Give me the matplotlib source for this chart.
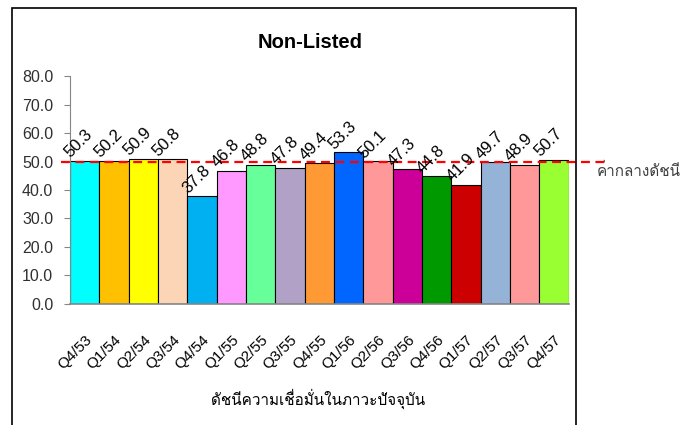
import matplotlib
matplotlib.use('Agg')
import matplotlib.pyplot as plt
from matplotlib import font_manager
from matplotlib.ft2font import FT2Font
from matplotlib.patches import Rectangle

# data
quarters = ['Q4/53', 'Q1/54', 'Q2/54', 'Q3/54', 'Q4/54', 'Q1/55', 'Q2/55', 'Q3/55',
            'Q4/55', 'Q1/56', 'Q2/56', 'Q3/56', 'Q4/56', 'Q1/57', 'Q2/57', 'Q3/57', 'Q4/57']
values = [50.3, 50.2, 50.9, 50.8, 37.8, 46.8, 48.8, 47.8, 49.4,
          53.3, 50.1, 47.3, 44.8, 41.9, 49.7, 48.9, 50.7]
bar_colors = ['#00FFFF', '#FFC000', '#FFFF00', '#FBD5B5', '#00B0F0', '#FF99FF', '#66FF99',
              '#B2A1C7', '#FF9933', '#0066FF', '#FF9999', '#CC0099', '#009900', '#CC0000',
              '#95B3D7', '#FF9999', '#99FF33']
median_value = 50.0
median_label = 'ค่ากลางดัชนี'
x_label = 'ดัชนีความเชื่อมั่นในภาวะปัจจุบัน'
title = 'Non-Listed'


def find_thai_font():
    # look for any installed font that has Thai glyphs
    for f in font_manager.fontManager.ttflist:
        try:
            if 0x0E01 in FT2Font(f.fname).get_charmap():
                return f.name
        except Exception:
            continue
    return None


thai = find_thai_font()
base = 'Liberation Sans'
thai_family = [thai, base] if thai else [base]

fig = plt.figure(figsize=(6.86, 4.25), dpi=100)
ax = fig.add_axes([0.102, 0.285, 0.727, 0.536])

pos = list(range(len(values)))
ax.bar(pos, values, width=1.0, color=bar_colors, edgecolor='black', linewidth=0.8, zorder=2)

for x, v in zip(pos, values):
    ax.text(x - 0.47, v + 0.9, f'{v:.1f}', rotation=45, rotation_mode='anchor',
            ha='left', va='baseline', fontsize=12, family=base, color='black', zorder=4)

# median line runs a bit past the plot on both sides
ax.plot([-0.8, 17.85], [median_value, median_value], color='#FF0000', linestyle=(0, (4, 2.5)),
        linewidth=1.6, clip_on=False, zorder=3)
ax.text(17.45, median_value - 0.6, median_label, ha='left', va='top', fontsize=11,
        family=thai_family, color='#404040')

ax.set_xlim(-0.5, len(values) - 0.5)
ax.set_ylim(0, 80)
ax.set_yticks(range(0, 90, 10))
ax.set_yticklabels([f'{t:.1f}' for t in range(0, 90, 10)], family=base, fontsize=11.5, color='#303030')
ax.set_xticks(pos)
ax.set_xticklabels(quarters, rotation=45, ha='right', rotation_mode='anchor',
                   family=base, fontsize=11, color='black')
ax.tick_params(axis='x', length=0, pad=21)
ax.tick_params(axis='y', length=4, color='#868686', pad=8)

for side in ['top', 'right']:
    ax.spines[side].set_visible(False)
ax.spines['left'].set_color('#868686')
ax.spines['bottom'].set_color('#868686')
ax.spines['bottom'].set_linewidth(1.2)

fig.text(0.452, 0.90, title, ha='center', va='center', fontsize=14.5, fontweight='bold', family=base)
fig.text(0.463, 0.062, x_label, ha='center', va='center', fontsize=11, family=thai_family)

# outer chart frame
fig.patches.append(Rectangle((0.0175, -0.05), 0.822, 1.031, transform=fig.transFigure,
                             fill=False, edgecolor='black', linewidth=1.2))

fig.savefig('out.png', dpi=100)
